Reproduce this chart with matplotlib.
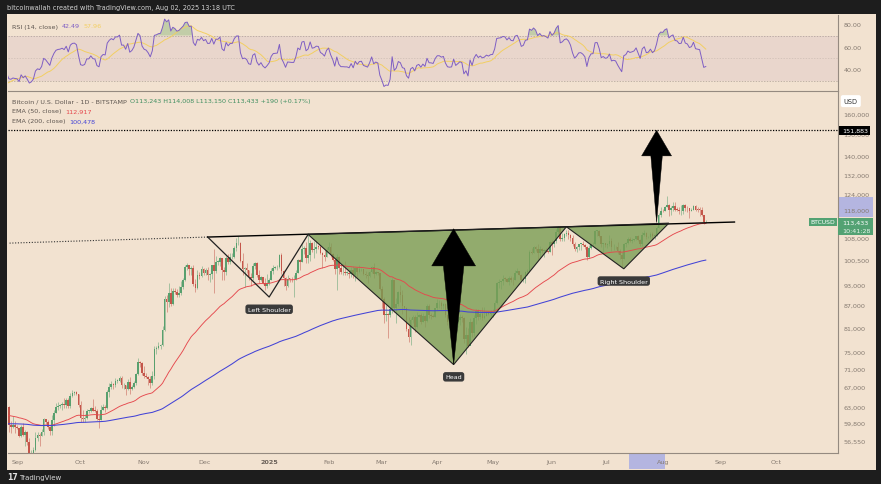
import numpy as np
import pandas as pd
import matplotlib
matplotlib.use('Agg')
import matplotlib.pyplot as plt
from matplotlib.patches import Rectangle, Polygon
from matplotlib.ticker import NullLocator

# daily BTCUSD (Bitstamp) from 2024-08-01 to 2025-08-02, prices in thousands of USD
start_date = '2024-08-01'
first_open = 64.6
closes = [
    65.3, 61.5, 60.7, 58.1, 54.0, 56.0, 55.1, 61.7, 60.8, 60.9, 58.7, 59.3, 60.6, 58.7, 57.5, 58.9,
    59.5, 58.4, 59.5, 59.0, 61.2, 60.4, 64.1, 64.2, 64.2, 62.9, 59.4, 59.0, 59.4, 59.1, 58.9,
    57.3, 59.1, 57.5, 58.0, 56.2, 53.9, 54.2, 54.9, 57.0, 57.6, 57.3, 58.1, 60.5, 60.0, 59.1,
    58.2, 60.3, 61.8, 62.9, 63.2, 63.3, 63.6, 63.3, 64.3, 63.1, 65.2, 65.8, 65.9, 65.6, 63.3,
    60.8, 60.6, 60.8, 62.1, 62.1, 62.8, 62.2, 62.1, 60.6, 60.3, 62.4, 62.9, 62.8, 66.0, 67.0, 67.6,
    67.4, 68.4, 68.4, 69.0, 67.4, 67.4, 66.7, 68.2, 66.6, 67.0, 67.9, 69.9, 72.7, 72.3, 70.2,
    69.5, 69.3, 68.7, 67.8, 69.4, 75.6, 75.9, 76.5, 76.7, 80.4, 88.7, 88.0, 90.5, 87.3, 91.0,
    90.6, 89.8, 90.5, 92.3, 94.3, 98.4, 98.9, 97.7, 98.0, 93.0, 91.9, 95.9, 95.6, 97.5, 96.4,
    97.2, 95.9, 96.0, 98.8, 97.0, 99.9, 99.9, 101.2, 97.4, 96.7, 101.2, 100.0, 101.4, 101.4, 104.3, 106.0,
    106.1, 100.2, 97.5, 97.8, 97.2, 95.2, 94.9, 98.7, 99.4, 95.8, 94.2, 95.2, 93.5, 92.6, 93.4,
    94.4, 96.9, 98.1, 98.2, 98.3, 102.1, 96.9, 95.0, 92.5, 94.7, 94.6, 94.5, 94.5, 96.5, 100.5, 99.9,
    104.1, 104.4, 101.1, 102.0, 106.1, 103.7, 104.0, 104.8, 104.7, 102.6, 102.1, 101.3, 103.7, 104.7, 102.4,
    100.6, 97.7, 101.4, 97.9, 96.6, 96.6, 96.5, 96.5, 96.1, 97.4, 95.7, 97.8, 96.6, 97.5,
    97.6, 96.1, 95.8, 95.5, 96.6, 98.3, 96.1, 96.6, 96.3, 91.5, 88.7, 84.3, 84.7, 84.4,
    86.0, 94.3, 86.1, 87.2, 90.6, 89.9, 86.7, 86.2, 80.6, 78.5, 82.9, 83.7, 81.1, 83.9, 84.4, 82.6,
    84.1, 82.7, 86.8, 84.2, 84.1, 83.8, 86.1, 87.5, 87.5, 86.9, 87.2, 84.4, 82.6, 82.4, 82.5,
    85.2, 82.5, 83.1, 83.8, 83.5, 78.2, 79.2, 76.3, 82.6, 79.6, 83.4, 85.3, 83.7, 84.5, 83.6,
    84.0, 84.9, 84.5, 85.1, 85.2, 87.5, 93.4, 93.7, 93.9, 94.7, 94.6, 93.8, 95.0, 94.3, 94.2,
    96.5, 96.9, 95.9, 94.3, 94.7, 96.8, 97.0, 103.2, 102.9, 104.6, 104.1, 102.8, 104.1, 103.5, 103.7, 103.5,
    103.2, 106.4, 105.6, 106.8, 109.7, 111.7, 107.3, 107.8, 109.0, 109.4, 108.9, 107.8, 105.6, 103.9, 104.6,
    105.7, 105.8, 105.4, 104.7, 101.6, 104.3, 105.6, 105.7, 110.2, 110.3, 108.6, 105.6, 106.0, 105.4, 105.6,
    106.8, 104.6, 104.8, 104.6, 103.3, 102.1, 100.9, 105.6, 106.0, 107.3, 106.9, 107.1, 107.4, 108.4, 107.1,
    105.7, 108.8, 109.6, 108.0, 108.2, 109.2, 108.3, 108.9, 111.3, 115.9, 117.5, 117.4, 119.1, 119.8, 117.7, 118.7,
    119.3, 118.0, 117.9, 117.3, 117.4, 119.9, 118.6, 118.4, 117.6, 117.9, 119.4, 118.0, 117.9, 117.8, 115.8,
    113.243, 113.433,
]
highs = [
    65.6, 65.6, 62.2, 61.1, 58.3, 57.0, 57.7, 62.7, 61.8, 61.5, 61.8, 60.7, 61.6, 61.8, 59.8, 59.8,
    60.2, 60.3, 59.6, 61.4, 61.8, 61.4, 64.9, 64.5, 65.0, 64.5, 63.2, 60.2, 61.2, 60.2, 59.4,
    58.9, 59.4, 59.8, 58.5, 58.3, 56.9, 54.8, 55.3, 58.1, 58.0, 57.9, 58.6, 60.7, 60.5, 60.4,
    59.2, 61.3, 62.3, 63.8, 64.0, 63.5, 64.0, 64.7, 64.7, 64.8, 65.8, 66.5, 66.2, 66.1, 65.6,
    64.1, 62.4, 61.5, 62.5, 62.4, 63.0, 64.5, 63.2, 62.5, 61.3, 63.4, 63.5, 63.3, 66.5, 67.9, 68.4,
    68.0, 68.9, 68.7, 69.4, 69.5, 67.8, 67.5, 68.8, 69.2, 67.4, 68.3, 70.2, 73.6, 72.9, 72.7,
    71.6, 70.0, 69.4, 69.5, 70.5, 76.4, 76.3, 77.3, 77.0, 81.5, 89.5, 89.9, 93.4, 91.8, 91.9,
    91.8, 91.7, 92.6, 94.0, 94.9, 99.0, 99.6, 98.7, 98.6, 98.9, 94.7, 97.3, 96.6, 98.7, 98.0,
    97.9, 98.2, 96.3, 99.0, 104.0, 101.9, 100.5, 101.4, 101.2, 98.3, 101.9, 102.5, 102.6, 102.7, 105.0, 107.8,
    108.3, 106.5, 102.8, 98.2, 99.5, 97.4, 96.4, 99.4, 99.9, 99.9, 97.3, 95.5, 95.2, 94.9, 96.1,
    94.9, 97.8, 98.9, 98.7, 98.8, 102.5, 102.7, 97.2, 95.3, 95.8, 95.0, 95.3, 95.9, 97.4, 100.7, 100.8,
    105.9, 104.9, 106.3, 109.6, 107.1, 106.3, 106.8, 107.1, 105.3, 105.5, 103.2, 103.7, 104.8, 106.4, 106.0,
    102.7, 101.0, 102.4, 101.8, 98.8, 99.1, 100.1, 96.9, 97.3, 98.3, 98.5, 98.1, 97.9, 98.8,
    97.9, 97.7, 97.0, 96.7, 97.0, 98.7, 99.5, 96.9, 96.7, 96.5, 92.5, 89.3, 87.0, 85.0,
    86.6, 95.0, 94.4, 88.9, 91.0, 92.8, 91.2, 86.8, 86.5, 83.9, 83.6, 84.4, 84.3, 85.2, 84.7, 85.0,
    84.8, 84.2, 87.4, 87.4, 84.8, 84.5, 86.2, 88.7, 88.5, 88.3, 87.7, 87.5, 84.7, 83.7, 83.9,
    85.5, 88.5, 83.9, 84.7, 84.2, 83.7, 81.2, 80.8, 83.5, 82.7, 84.2, 85.9, 86.0, 85.8, 86.5,
    86.4, 85.5, 85.4, 85.6, 86.0, 88.5, 93.8, 94.6, 94.0, 95.8, 95.3, 95.0, 95.5, 95.4, 95.2,
    97.4, 97.9, 96.9, 96.0, 95.2, 96.9, 97.6, 103.7, 104.3, 104.9, 104.9, 105.8, 104.9, 104.3, 104.0, 104.4,
    103.7, 106.6, 107.1, 107.2, 110.8, 112.0, 111.9, 109.5, 109.4, 110.4, 110.7, 109.3, 108.9, 106.4, 104.9,
    105.9, 105.9, 106.8, 105.9, 105.0, 105.3, 105.9, 106.4, 110.6, 110.4, 110.4, 108.6, 106.2, 106.2, 106.2,
    108.9, 107.7, 105.6, 105.2, 106.5, 104.0, 103.0, 106.1, 106.3, 108.1, 108.0, 107.8, 107.5, 108.5, 108.8,
    107.6, 109.8, 110.5, 110.0, 108.4, 109.7, 109.7, 109.2, 111.9, 116.8, 118.8, 118.2, 119.5, 123.2, 120.0, 119.5,
    120.9, 120.9, 118.9, 118.8, 119.7, 120.2, 120.0, 119.5, 118.5, 118.4, 119.8, 119.8, 119.0, 118.8, 118.9,
    116.0, 114.008,
]
lows = [
    62.3, 61.1, 59.8, 57.2, 49.0, 54.0, 54.6, 54.7, 59.6, 60.3, 57.7, 57.6, 58.5, 58.5, 56.1, 57.0,
    58.6, 58.1, 57.9, 58.6, 58.8, 60.0, 60.3, 63.6, 63.6, 62.8, 58.1, 57.9, 58.9, 57.9, 58.6,
    57.2, 57.1, 57.4, 55.6, 55.7, 52.6, 53.7, 53.6, 54.6, 56.4, 55.6, 57.3, 57.6, 59.6, 58.7,
    57.5, 57.6, 59.2, 61.8, 62.4, 62.8, 62.4, 62.7, 62.7, 62.7, 62.7, 64.9, 65.4, 65.4, 62.9,
    60.0, 59.9, 59.9, 60.5, 61.7, 62.0, 62.1, 61.9, 60.3, 58.9, 60.3, 62.4, 62.0, 62.5, 64.9, 66.7,
    66.7, 67.1, 68.0, 68.1, 66.8, 66.6, 65.3, 66.5, 65.5, 66.5, 66.8, 67.5, 69.7, 71.5, 69.7,
    68.9, 69.0, 67.5, 66.8, 67.5, 68.8, 74.4, 75.6, 75.7, 76.5, 80.2, 85.2, 86.6, 86.7, 87.1,
    90.1, 89.3, 89.4, 90.0, 91.6, 94.1, 97.2, 95.9, 95.8, 92.6, 90.8, 91.6, 94.7, 95.3, 95.8,
    95.7, 94.2, 93.6, 94.6, 90.5, 96.4, 99.0, 98.7, 94.2, 94.2, 95.7, 99.2, 99.2, 100.8, 101.2, 103.3,
    105.3, 99.7, 95.7, 92.2, 96.4, 94.3, 92.5, 94.2, 97.6, 95.2, 93.4, 94.0, 93.0, 91.3, 91.8,
    92.8, 94.2, 96.1, 97.7, 97.3, 97.9, 96.2, 92.5, 91.2, 92.2, 93.8, 93.7, 89.3, 94.3, 96.4, 97.3,
    99.9, 102.3, 99.5, 99.5, 100.1, 103.2, 101.2, 102.7, 104.2, 102.5, 97.8, 100.3, 101.3, 103.3, 101.6,
    100.3, 96.2, 91.2, 96.2, 96.2, 95.7, 95.7, 95.7, 94.8, 95.3, 94.8, 94.1, 95.3, 96.4,
    97.0, 95.9, 95.0, 93.4, 95.1, 96.4, 94.8, 95.7, 95.9, 91.2, 86.1, 82.3, 82.8, 78.3,
    83.8, 85.0, 85.1, 82.3, 86.9, 88.0, 84.7, 85.8, 80.1, 77.5, 76.6, 82.2, 79.9, 80.8, 83.7, 82.0,
    82.5, 81.1, 82.4, 83.6, 83.2, 83.7, 83.7, 85.6, 86.3, 85.9, 85.9, 83.7, 81.6, 81.6, 81.3,
    82.4, 82.3, 81.2, 81.6, 82.4, 77.2, 74.4, 76.2, 76.6, 78.5, 78.9, 82.0, 83.1, 83.2, 83.1,
    83.2, 84.0, 84.2, 84.1, 83.9, 85.1, 87.2, 91.8, 91.7, 92.9, 93.9, 93.6, 92.9, 93.7, 92.9,
    94.2, 96.3, 95.7, 94.2, 93.6, 93.4, 95.7, 96.9, 102.3, 102.8, 103.4, 100.7, 101.5, 102.6, 101.4, 103.0,
    102.6, 103.1, 102.1, 104.6, 106.1, 109.3, 106.6, 106.9, 106.7, 108.6, 107.5, 106.9, 105.0, 103.4, 103.1,
    103.6, 103.7, 104.9, 104.2, 100.4, 101.1, 103.9, 105.0, 105.3, 108.4, 108.2, 104.8, 102.8, 104.7, 104.5,
    105.1, 103.4, 103.6, 103.9, 102.3, 100.9, 98.2, 100.9, 104.7, 105.9, 106.4, 106.2, 106.9, 107.2, 106.7,
    105.2, 105.1, 108.5, 107.3, 107.8, 107.9, 107.4, 107.5, 108.3, 111.2, 115.2, 116.9, 117.3, 118.9, 115.7, 115.8,
    117.4, 117.4, 117.3, 116.5, 116.0, 116.2, 117.3, 117.0, 114.7, 117.3, 117.8, 117.5, 117.0, 115.6, 115.5,
    112.7, 113.150,
]

ema_fast_seed = 63.0
ema_slow_seed = 59.5

# x positions are days since 2024-09-01
month_tick_days = [-0.5, 29.8, 61.0, 90.7, 122.0, 151.2, 176.6, 204.4, 231.2, 259.5, 286.3, 314.1, 342.4, 369.3]
month_tick_labels = ['Sep', 'Oct', 'Nov', 'Dec', '2025', 'Feb', 'Mar', 'Apr', 'May', 'Jun', 'Jul', 'Aug', 'Sep', 'Oct']
price_ticks = [160, 150, 140, 132, 124, 118, 108, 100.5, 93, 87, 81, 75, 71, 67, 63, 59.8, 56.55]
rsi_ticks = [40, 60, 80]

# head and shoulders drawing
pattern_days = [92, 122, 141, 212, 267, 295, 317]
pattern_prices = [108.1, 89.3, 109.0, 72.0, 111.7, 97.7, 113.0]
pattern_names = ['Left Shoulder', 'Head', 'Right Shoulder']
neckline_days = [-6, 92, 349]
neckline_prices = [106.0, 108.1, 113.4]
target_price = 151.883
arrow_days = [212, 311]
arrow_bottoms = [72.0, 113.2]
arrow_tips = [111.0, 151.883]
arrow_head_bases = [98.6, 140.0]
arrow_head_half = [10.7, 7.3]
arrow_shaft_half = [5.0, 2.8]
last_price = 113.433
highlight_days = [297.6, 315.1]
highlight_prices = [115.1, 122.8]

W, H = 881, 485
bg_dark = '#1d1d1d'
panel = '#f2e2d0'
sep_color = '#958a80'
axis_text = '#857a70'
up_color = '#58a06e'
down_color = '#c4564a'
tv_green = '#53a273'
pattern_green = '#7a9e55'

dates = pd.date_range(start_date, periods=len(closes))
days = np.asarray((dates - pd.Timestamp('2024-09-01')).days, dtype=float)
closes = np.asarray(closes)
highs = np.asarray(highs)
lows = np.asarray(lows)
opens = np.concatenate([[first_open], closes[:-1]])


def ema(values, span, seed):
    alpha = 2 / (span + 1)
    level = seed
    out = []
    for v in values:
        level = level + alpha * (v - level)
        out.append(level)
    return np.array(out)


s = pd.Series(closes)
delta = s.diff()
up = delta.clip(lower=0).ewm(alpha=1 / 14, adjust=False).mean()
down = (-delta.clip(upper=0)).ewm(alpha=1 / 14, adjust=False).mean()
rsi = (100 - 100 / (1 + up / down)).to_numpy()
rsi_ma = pd.Series(rsi).rolling(14).mean().to_numpy()

ema50 = ema(closes, 50, ema_fast_seed)
ema200 = ema(closes, 200, ema_slow_seed)

fig = plt.figure(figsize=(W / 100, H / 100), dpi=100, facecolor=bg_dark)
fig.patches.append(Rectangle((7 / W, 1 - 471 / H), 869 / W, 456 / H, transform=fig.transFigure,
                             facecolor=panel, edgecolor='none', zorder=-10))

ax = fig.add_axes([8 / W, 1 - 454 / H, 830 / W, 362 / H])
ax_rsi = fig.add_axes([8 / W, 1 - 92 / H, 830 / W, 76 / H], sharex=ax)
for a in (ax, ax_rsi):
    a.set_zorder(2)
    a.set_facecolor('none')
    a.spines['top'].set_visible(False)
    a.spines['left'].set_visible(False)
    a.spines['right'].set_color(sep_color)
    a.spines['bottom'].set_color(sep_color)
    a.spines['right'].set_linewidth(0.8)
    a.spines['bottom'].set_linewidth(0.8)
    a.yaxis.tick_right()
    a.tick_params(axis='y', length=0, pad=4, labelsize=4.6, labelcolor=axis_text)

# price pane
ax.set_yscale('log')
ax.set_xlim(-5.4, 399.5)
ax.set_ylim(54.33, 172.15)
ax.yaxis.set_minor_locator(NullLocator())
ax.set_yticks(price_ticks)
ax.set_yticklabels([f'{v * 1000:,.0f}' for v in price_ticks])
ax.set_xticks(month_tick_days)
ax.set_xticklabels(month_tick_labels)
ax.tick_params(axis='x', length=0, pad=4, labelsize=4.6, labelcolor=axis_text)
for lab in ax.get_xticklabels():
    if lab.get_text() == '2025':
        lab.set_fontweight('bold')
        lab.set_color('#6a6058')

is_up = closes >= opens
colors = np.where(is_up, up_color, down_color)
ax.vlines(days, lows, highs, colors=colors, linewidth=0.5, alpha=0.7, zorder=2)
body_low = np.minimum(opens, closes)
body_h = np.maximum(np.abs(closes - opens), body_low * 0.002)
ax.bar(days, body_h, bottom=body_low, width=0.8, color=colors, linewidth=0, zorder=2)

ax.plot(days, ema50, color='#e5484d', lw=0.65, zorder=4)
ax.plot(days, ema200, color='#4343d6', lw=0.75, zorder=4)

# target line
ax.axhline(target_price, color='black', lw=0.9, ls=(0, (1, 1.2)), zorder=5)

# neckline
ax.plot(neckline_days[:2], neckline_prices[:2], color='#333333', lw=0.8, ls=(0, (1, 1.5)), zorder=5)
ax.plot(neckline_days[1:], neckline_prices[1:], color='black', lw=1.0, zorder=5)

# shoulders and head
pts = list(zip(pattern_days, pattern_prices))
ax.plot(pattern_days[:3], pattern_prices[:3], color='#222222', lw=0.9, zorder=5)
for tri in (pts[2:5], pts[4:7]):
    ax.add_patch(Polygon(tri, closed=True, facecolor=pattern_green, alpha=0.8, edgecolor='none', zorder=3))
    ax.add_patch(Polygon(tri, closed=True, facecolor='none', edgecolor='#222222', lw=0.8, zorder=5))

for name, i in zip(pattern_names, [1, 3, 5]):
    ax.annotate(name, xy=(pattern_days[i], pattern_prices[i]), xytext=(0, -7), textcoords='offset points',
                ha='center', va='top', fontsize=4.6, color='white', zorder=8,
                bbox=dict(boxstyle='round,pad=0.35,rounding_size=0.4', facecolor='#3a3a3a', edgecolor='none'))

# arrows
for xd, pb, pt, ph, hw, sw in zip(arrow_days, arrow_bottoms, arrow_tips, arrow_head_bases,
                                  arrow_head_half, arrow_shaft_half):
    shape = [(xd, pb), (xd + sw, ph), (xd + hw, ph), (xd, pt), (xd - hw, ph), (xd - sw, ph)]
    ax.add_patch(Polygon(shape, closed=True, facecolor='black', edgecolor='black', lw=0.3, zorder=7))

# right axis boxes
ytr = ax.get_yaxis_transform()
xtr = ax.get_xaxis_transform()
ax.add_patch(Rectangle((1.0, highlight_prices[0]), 0.042, highlight_prices[1] - highlight_prices[0],
                       transform=ytr, facecolor='#b4b5e0', edgecolor='none', clip_on=False, zorder=1))
ax.add_patch(Rectangle((highlight_days[0], -0.044), highlight_days[1] - highlight_days[0], 0.044,
                       transform=xtr, facecolor='#b4b5e0', edgecolor='none', clip_on=False, zorder=1))
ax.text(1.0045, target_price, f'{target_price * 1000:,.0f}', transform=ytr, ha='left', va='center',
        fontsize=4.6, color='white', clip_on=False, zorder=9,
        bbox=dict(boxstyle='square,pad=0.35', facecolor='black', edgecolor='none'))
ax.add_patch(Rectangle((1.0, 108.9), 0.042, 6.0, transform=ytr, facecolor=tv_green, edgecolor='none',
                       clip_on=False, zorder=8))
ax.text(1.0045, last_price, f'{last_price * 1000:,.0f}', transform=ytr, ha='left', va='center',
        fontsize=4.6, color='white', clip_on=False, zorder=9)
ax.annotate('10:41:28', xy=(1.0045, last_price), xycoords=ytr, xytext=(0, -6), textcoords='offset points',
            ha='left', va='center', fontsize=4.6, color='#e8f4ea', annotation_clip=False, zorder=9)
ax.text(0.997, last_price, 'BTCUSD', transform=ytr, ha='right', va='center', fontsize=4.4, color='white',
        zorder=9, bbox=dict(boxstyle='square,pad=0.3', facecolor=tv_green, edgecolor='none'))
ax.text(1.007, 0.972, 'USD', transform=ax.transAxes, ha='left', va='center', fontsize=4.8, color='#333333',
        clip_on=False, zorder=9,
        bbox=dict(boxstyle='round,pad=0.45,rounding_size=0.3', facecolor='white', edgecolor='none'))

# RSI pane
ax_rsi.set_ylim(20.9, 88.2)
ax_rsi.set_yticks(rsi_ticks)
ax_rsi.set_yticklabels([f'{v:.2f}' for v in rsi_ticks])
ax_rsi.tick_params(axis='x', bottom=False, labelbottom=False)
ax_rsi.axhspan(30, 70, color='#9c6fb0', alpha=0.1, lw=0, zorder=1)
for lvl in (70, 50, 30):
    ax_rsi.axhline(lvl, color='#9a8e88', lw=0.5, ls=(0, (2, 2)), alpha=0.8 if lvl != 50 else 0.35, zorder=1)
ax_rsi.fill_between(days, 70, rsi, where=rsi > 70, interpolate=True, color='#6aa860', alpha=0.35, lw=0,
                    zorder=2)
ax_rsi.plot(days, rsi_ma, color='#f2cf62', lw=0.7, zorder=3)
ax_rsi.plot(days, rsi, color='#7e5ec4', lw=0.7, zorder=4)


def chain(axis, x, y, parts, size=4.6):
    t = axis.text(x, y, parts[0][0], color=parts[0][1], fontsize=size, transform=axis.transAxes,
                  ha='left', va='center')
    for txt, col in parts[1:]:
        t = axis.annotate(txt, xy=(1, 0.5), xycoords=t, xytext=(2.5, 0), textcoords='offset points',
                          ha='left', va='center', fontsize=size, color=col)
    return t


legend_grey = '#5e5650'
chain(ax_rsi, 4 / 830, 1 - 11 / 76, [('RSI (14, close)', legend_grey), ('42.49', '#7e5ec4'),
                                      ('57.96', '#f2cf62')])
chain(ax, 4 / 830, 1 - 10 / 362, [('Bitcoin / U.S. Dollar - 1D - BITSTAMP', legend_grey),
                                  ('O113,243 H114,008 L113,150 C113,433 +190 (+0.17%)', '#3f8e60')])
chain(ax, 4 / 830, 1 - 20 / 362, [('EMA (50, close)', legend_grey), ('112,917', '#e5484d')])
chain(ax, 4 / 830, 1 - 30 / 362, [('EMA (200, close)', legend_grey), ('100,478', '#4343d6')])

fig.text(7 / W, 1 - 8 / H, 'bitcoinwallah created with TradingView.com, Aug 02, 2025 13:18 UTC',
         color='#d2d2d2', fontsize=4.7, va='center')
fig.text(7 / W, 1 - 478 / H, '17', color='#e0e0e0', fontsize=5.6, fontweight='bold', va='center')
fig.text(19 / W, 1 - 478 / H, 'TradingView', color='#d8d8d8', fontsize=5.0, va='center')

fig.savefig('out.png', dpi=100, facecolor=bg_dark)
